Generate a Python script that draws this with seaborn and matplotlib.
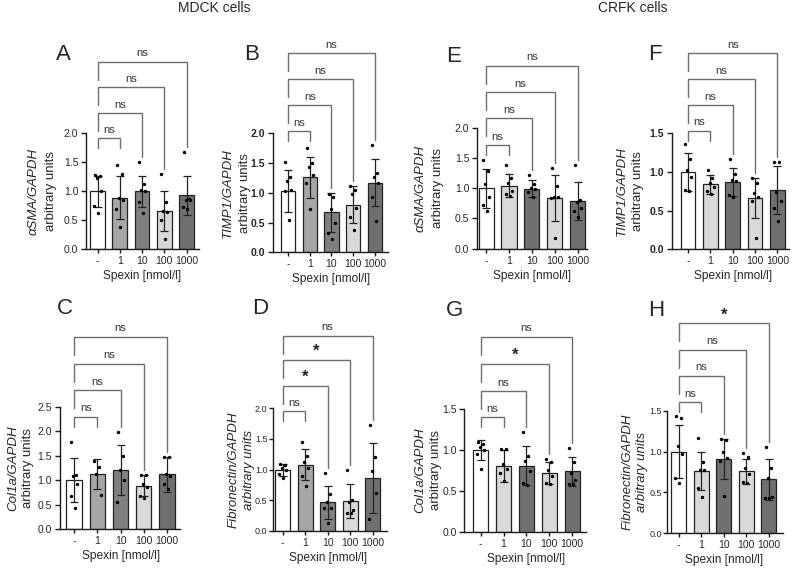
import numpy as np
import pandas as pd
import matplotlib
matplotlib.use("Agg")
import matplotlib.pyplot as plt
import matplotlib.transforms as mtransforms
from matplotlib.ticker import FormatStrFormatter, MultipleLocator
import seaborn as sns

sns.set_style("ticks")
plt.rcParams["font.family"] = ["Liberation Sans", "DejaVu Sans"]

# ---------------- data ----------------
doses = ["-", "1", "10", "100", "1000"]

# Panel A: aSMA / GAPDH, MDCK
a_mean = [1.00, 0.89, 1.00, 0.66, 0.93]
a_sd = [0.26, 0.37, 0.27, 0.34, 0.34]
a_pts = [[1.29, 1.26, 1.23, 1.01, 0.75, 0.62],
         [1.46, 1.30, 0.88, 0.85, 0.69, 0.39],
         [1.50, 1.13, 1.03, 1.01, 0.82, 0.62],
         [1.30, 0.81, 0.67, 0.64, 0.51, 0.18],
         [1.67, 0.87, 0.86, 0.85, 0.73, 0.69]]
a_sig = ["ns", "ns", "ns", "ns"]

# Panel B: TIMP1 / GAPDH, MDCK
b_mean = [1.03, 1.26, 0.67, 0.80, 1.17]
b_sd = [0.35, 0.35, 0.33, 0.31, 0.39]
b_pts = [[1.52, 1.27, 1.20, 1.05, 1.03, 0.55],
         [1.75, 1.50, 1.43, 1.30, 1.17, 0.72],
         [0.98, 0.93, 0.72, 0.50, 0.33, 0.23],
         [1.12, 1.05, 0.98, 0.75, 0.60, 0.38],
         [1.80, 1.33, 1.27, 1.17, 0.93, 0.52]]
b_sig = ["ns", "ns", "ns", "ns"]

# Panel C: Col1a / GAPDH, MDCK
c_mean = [1.00, 1.13, 1.21, 0.89, 1.12]
c_sd = [0.45, 0.31, 0.51, 0.21, 0.35]
c_pts = [[1.77, 1.10, 1.08, 0.92, 0.68, 0.43],
         [1.40, 1.28, 1.12, 0.70],
         [1.98, 1.50, 1.20, 1.00, 0.55],
         [1.10, 1.10, 0.92, 0.87, 0.68, 0.63],
         [1.47, 1.47, 1.12, 1.08, 0.92, 0.82]]
c_sig = ["ns", "ns", "ns", "ns"]

# Panel D: Fibronectin / GAPDH, MDCK
d_mean = [1.00, 1.08, 0.47, 0.49, 0.87]
d_sd = [0.10, 0.25, 0.27, 0.27, 0.57]
d_pts = [[1.10, 1.08, 1.02, 1.00, 0.93, 0.87],
         [1.45, 1.22, 1.13, 1.02, 0.90, 0.73],
         [0.95, 0.60, 0.48, 0.38, 0.38, 0.13],
         [1.00, 0.50, 0.48, 0.35, 0.30, 0.30],
         [1.72, 1.20, 0.97, 0.62, 0.20]]
d_sig = ["ns", "*", "*", "ns"]

# Panel E: aSMA / GAPDH, CRFK
e_mean = [1.00, 1.04, 0.99, 0.84, 0.79]
e_sd = [0.32, 0.19, 0.14, 0.38, 0.31]
e_pts = [[1.47, 1.28, 1.07, 0.86, 0.72, 0.62],
         [1.39, 1.17, 1.09, 0.95, 0.90, 0.87],
         [1.21, 1.07, 1.00, 0.98, 0.93, 0.85],
         [1.33, 1.04, 0.86, 0.85, 0.84, 0.17],
         [1.38, 0.80, 0.78, 0.67, 0.62, 0.52]]
e_sig = ["ns", "ns", "ns", "ns"]

# Panel F: TIMP1 / GAPDH, CRFK
f_mean = [1.00, 0.84, 0.87, 0.66, 0.77]
f_sd = [0.25, 0.125, 0.185, 0.26, 0.31]
f_pts = [[1.36, 1.17, 1.03, 0.93, 0.77, 0.75],
         [1.02, 0.92, 0.86, 0.81, 0.76, 0.72],
         [1.17, 0.98, 0.90, 0.88, 0.70, 0.68],
         [0.92, 0.86, 0.73, 0.68, 0.62, 0.14],
         [1.13, 1.13, 0.74, 0.63, 0.53, 0.37]]
f_sig = ["ns", "ns", "ns", "ns"]

# Panel G: Col1a / GAPDH, CRFK
g_mean = [1.00, 0.81, 0.81, 0.72, 0.74]
g_sd = [0.12, 0.195, 0.24, 0.135, 0.18]
g_pts = [[1.10, 1.08, 1.04, 1.00, 0.95, 0.77],
         [1.01, 1.01, 0.83, 0.77, 0.72, 0.62],
         [1.22, 0.93, 0.87, 0.74, 0.60, 0.57],
         [0.89, 0.85, 0.76, 0.68, 0.60, 0.58],
         [1.02, 0.86, 0.72, 0.63, 0.58, 0.58]]
g_sig = ["ns", "ns", "*", "ns"]

# Panel H: Fibronectin / GAPDH, CRFK
h_mean = [1.00, 0.76, 0.91, 0.76, 0.66]
h_sd = [0.32, 0.235, 0.24, 0.155, 0.25]
h_pts = [[1.43, 1.41, 1.07, 0.97, 0.68, 0.62],
         [1.16, 0.87, 0.78, 0.77, 0.56, 0.45],
         [1.15, 1.14, 0.99, 0.92, 0.88, 0.46],
         [0.98, 0.93, 0.80, 0.73, 0.63, 0.61],
         [1.06, 0.80, 0.68, 0.45, 0.43, 0.43]]
h_sig = ["ns", "ns", "ns", "*"]

titles = ["MDCK cells", "CRFK cells"]

# ---------------- styles / layout ----------------
mdck_colors = ["#ffffff", "#a6a6a6", "#808080", "#d9d9d9", "#707070"]
crfk_colors = ["#ffffff", "#d9d9d9", "#707070", "#d9d9d9", "#707070"]

W, H = 794, 570
fig = plt.figure(figsize=(W / 100, H / 100), dpi=100)

panels = [
    # key, mean, sd, pts, sig, label1, italic2, ymax, colors, boldticks
    ("A", a_mean, a_sd, a_pts, a_sig, "\u03b1SMA/GAPDH", False, 2.0, mdck_colors, False),
    ("B", b_mean, b_sd, b_pts, b_sig, "TIMP1/GAPDH", False, 2.0, mdck_colors, True),
    ("C", c_mean, c_sd, c_pts, c_sig, "Col1a/GAPDH", False, 2.5, mdck_colors, False),
    ("D", d_mean, d_sd, d_pts, d_sig, "Fibronectin/GAPDH", True, 2.0, mdck_colors, False),
    ("E", e_mean, e_sd, e_pts, e_sig, "\u03b1SMA/GAPDH", False, 2.0, crfk_colors, False),
    ("F", f_mean, f_sd, f_pts, f_sig, "TIMP1/GAPDH", False, 1.5, crfk_colors, True),
    ("G", g_mean, g_sd, g_pts, g_sig, "Col1a/GAPDH", False, 1.5, crfk_colors, False),
    ("H", h_mean, h_sd, h_pts, h_sig, "Fibronectin/GAPDH", True, 1.5, crfk_colors, False),
]

# axes boxes in pixels: left, right, top, bottom
boxes = {
    "A": (86, 199, 133.3, 249.5), "B": (273, 388, 133.3, 252.3),
    "C": (59.5, 180, 406.7, 529.3), "D": (273, 387, 408.3, 531),
    "E": (477, 587, 127.7, 248.7), "F": (672, 789, 133.3, 249.3),
    "G": (464.3, 586, 409.3, 531.7), "H": (667.3, 783, 410.7, 533.3),
}
xlims = {
    "A": (-0.52, 4.56), "B": (-0.69, 4.6), "C": (-0.63, 4.56), "D": (-0.43, 4.64),
    "E": (-0.40, 4.41), "F": (-0.72, 4.52), "G": (-0.72, 4.61), "H": (-0.50, 4.63),
}
bracket_tops = {
    "A": [138.3, 113.3, 87.3, 61.7], "B": [131, 105, 79, 53.3],
    "C": [416.7, 390.3, 364, 336.5], "D": [411, 385.7, 360, 336],
    "E": [145, 118.3, 92.3, 66], "F": [130.7, 105, 79, 53.3],
    "G": [417.3, 391, 364, 336.7], "H": [402.3, 375.7, 350, 323.3],
}
ylab_off = {
    "A": (-52, -35), "B": (-45, -28), "C": (-46, -31), "D": (-39, -24),
    "E": (-56, -39), "F": (-50, -34), "G": (-44, -28), "H": (-40, -25),
}
tick_size = {"A": 7.5, "B": 7.5, "C": 7.5, "D": 6.5,
             "E": 7.5, "F": 7.5, "G": 7.5, "H": 6.5}
letter_pos = {
    "A": (63.7, 55), "B": (251.7, 55), "E": (454, 56.7), "F": (655, 54),
    "C": (65, 309), "D": (260, 309), "G": (455, 310), "H": (655.7, 310),
}
pt_offsets = [-0.13, 0.09, -0.04, 0.14, -0.15, 0.03]
BR_COLOR = "#6e6e6e"

for key, mean, sd, pts, sig, lab1, ital2, ymax, colors, bold in panels:
    l, r, t, b = boxes[key]
    ax = fig.add_axes([l / W, 1 - b / H, (r - l) / W, (b - t) / H])
    df = pd.DataFrame({"dose": doses, "value": mean})
    sns.barplot(data=df, x="dose", y="value", hue="dose", palette=colors,
                order=doses, hue_order=doses, legend=False, width=0.66,
                edgecolor="#222222", linewidth=0.9, errorbar=None, ax=ax,
                zorder=1)
    xs = np.arange(len(doses))
    ax.errorbar(xs, mean, yerr=sd, fmt="none", ecolor="#222222",
                elinewidth=0.9, capsize=2.6, capthick=0.9, zorder=3)
    for i, grp in enumerate(pts):
        ax.scatter(i + np.array(pt_offsets[:len(grp)]), grp, s=6,
                   color="black", zorder=4, linewidths=0)
    ax.set_xlim(*xlims[key])
    ax.set_ylim(0, ymax)
    ax.yaxis.set_major_locator(MultipleLocator(0.5))
    ax.yaxis.set_major_formatter(FormatStrFormatter("%.1f"))
    ax.set_xlabel("")
    ax.set_ylabel("")
    sns.despine(ax=ax)
    for s in ("left", "bottom"):
        ax.spines[s].set_linewidth(1.0)
        ax.spines[s].set_color("#1a1a1a")
    ax.tick_params(axis="both", length=3.5, width=1.0, color="#1a1a1a",
                   labelsize=7.5, pad=2)
    ax.tick_params(axis="x", length=3)
    if tick_size[key] < 7.5:
        ax.tick_params(axis="y", labelsize=tick_size[key], pad=1, length=3)
    if bold:
        for tl in ax.get_yticklabels():
            tl.set_fontweight("bold")

    # x label
    hpx = b - t
    trans = mtransforms.blended_transform_factory(ax.transData, ax.transAxes)
    ax.text(2, -27 / hpx, "Spexin [nmol/l]", transform=trans, ha="center",
            va="center", fontsize=8.6)

    # y labels (two lines)
    cy = 1 - (t + b) / 2 / H
    o1, o2 = ylab_off[key]
    fig.text((l + o1) / W, cy, lab1, rotation=90, ha="center", va="center",
             fontsize=9.5, style="italic")
    fig.text((l + o2) / W, cy, "arbitrary units", rotation=90, ha="center",
             va="center", fontsize=9.5, style="italic" if ital2 else "normal")

    # panel letter
    lx, ly = letter_pos[key]
    fig.text(lx / W, 1 - ly / H, key, ha="center", va="center", fontsize=16)

    # significance brackets
    dpp = ymax / (b - t)

    def px2d(ypx):
        return (b - ypx) * dpp

    for k, lab in enumerate(sig):
        tgt = k + 1
        ytop = px2d(bracket_tops[key][k])
        if k == 0:
            yl = px2d(bracket_tops[key][k] + 10)
            yr = yl
        else:
            yl = px2d(bracket_tops[key][k] + 18)
            dtop = max(max(pts[tgt]), mean[tgt] + sd[tgt])
            yr = dtop + 5 * dpp
        ax.plot([0, 0, tgt, tgt], [yl, ytop, ytop, yr], color=BR_COLOR,
                lw=1.0, clip_on=False, zorder=5, solid_joinstyle="miter")
        if lab == "*":
            ax.text(tgt / 2, ytop + 8.5 * dpp, lab, ha="center", va="center",
                    fontsize=12, fontweight="bold", color="#222222",
                    clip_on=False)
        else:
            ax.text(tgt / 2, ytop + 5.5 * dpp, lab, ha="center",
                    va="baseline", fontsize=8, color="#333333",
                    clip_on=False)

fig.text(214 / W, 1 - 7.5 / H, titles[0], ha="center", va="center", fontsize=10)
fig.text(633 / W, 1 - 7.5 / H, titles[1], ha="center", va="center", fontsize=10)

fig.savefig("out.png", dpi=100, facecolor="white")
